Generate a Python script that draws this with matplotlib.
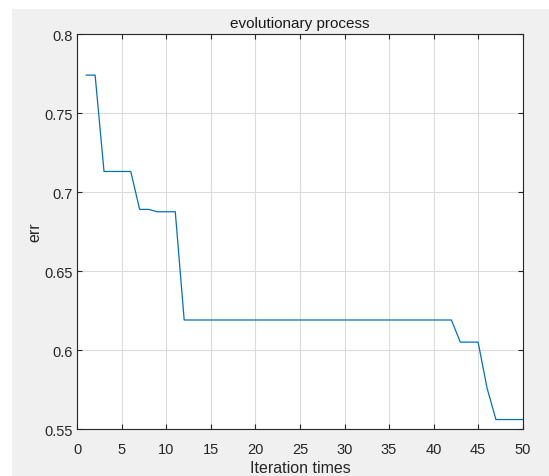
import numpy as np
import matplotlib
matplotlib.use("Agg")
import matplotlib.pyplot as plt
from matplotlib.patches import Rectangle

# error per iteration
iterations = list(range(1, 51))
err = ([0.774, 0.774] + [0.713] * 4 + [0.689, 0.689] + [0.6875] * 3
       + [0.619] * 31 + [0.605] * 3 + [0.576] + [0.556] * 4)

plt.rcParams['font.family'] = ['Liberation Sans', 'DejaVu Sans']

W, H = 549, 477
fig = plt.figure(figsize=(W / 100, H / 100), dpi=100, facecolor='white')
# grey window area (screenshot has a thin white strip top/left)
fig.patches.append(Rectangle((12 / W, 0), 1 - 12 / W, 1 - 10 / H,
                             transform=fig.transFigure, facecolor='#f0f0f0',
                             edgecolor='none', zorder=-1))

ax = fig.add_axes([0.1408, 0.0985, 0.8112, 0.8281])
ax.set_facecolor('white')

ax.plot(iterations, err, color='#0072BD', linewidth=0.9)

ax.set_xlim(0, 50)
ax.set_ylim(0.55, 0.8)
ax.set_xticks(np.arange(0, 51, 5))
ax.set_yticks([0.55, 0.6, 0.65, 0.7, 0.75, 0.8])
ax.set_yticklabels(['0.55', '0.6', '0.65', '0.7', '0.75', '0.8'])

ax.grid(True, color='#dcdcdc', linewidth=0.8)
ax.set_axisbelow(True)
ax.tick_params(direction='in', length=3.6, labelsize=10.5, colors='#262626',
               top=True, right=True, labeltop=False, labelright=False)
ax.tick_params(axis='x', pad=9)
for s in ax.spines.values():
    s.set_color('#262626')
    s.set_linewidth(0.8)

ax.set_title('evolutionary process', fontsize=11, color='#1a1a1a', pad=5)
ax.set_xlabel('Iteration times', fontsize=11.5, color='#262626', labelpad=3)
ax.set_ylabel('err', fontsize=11.5, color='#262626', labelpad=1)

fig.savefig('out.png', dpi=100, facecolor=fig.get_facecolor())
